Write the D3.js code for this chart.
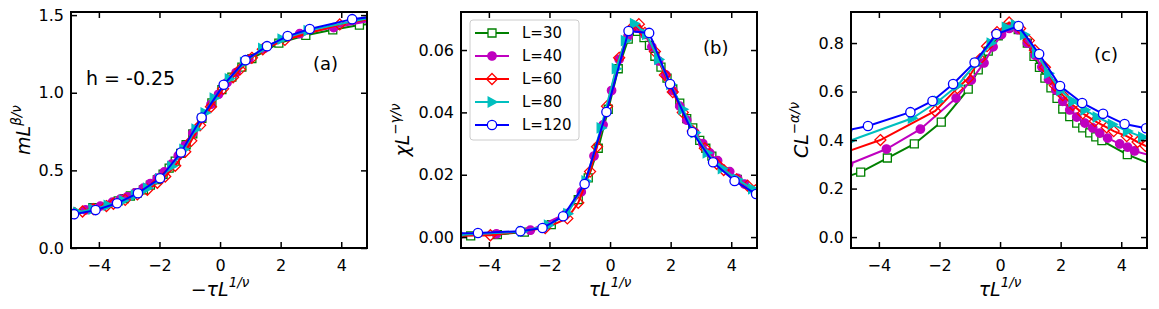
<!DOCTYPE html>
<html>
<head>
<meta charset="utf-8">
<script src="https://cdn.jsdelivr.net/npm/d3@7"></script>
<style>
    body { margin: 0; background: #fff; }
    svg { font-family: 'DejaVu Sans', sans-serif; }
</style>
</head>
<body>
<svg id="chart" width="1159" height="309"></svg>
<script>
// system sizes, same order everywhere
const sizes = ['L=30', 'L=40', 'L=60', 'L=80', 'L=120']
const colors = ['#008000', '#bf00bf', '#ff0000', '#00bfbf', '#0000ff']
const markers = ['square', 'dot', 'diamond', 'tri', 'circle']

// scaled temperature tau*L^(1/nu) for every size
const x30 = [-5.4, -4.6, -3.72, -2.83, -1.94, -1.05, -0.72, -0.39, -0.06, 0.27, 0.6, 0.9, 1.12, 1.3, 1.48, 1.68, 1.88, 2.07, 2.3, 2.53, 2.73, 2.96, 3.16, 3.36, 4.2, 5.1]
const x40 = [-5.0, -3.75, -2.63, -1.45, -0.95, -0.53, -0.23, 0.05, 0.3, 0.6, 0.9, 1.15, 1.38, 1.6, 1.84, 2.07, 2.3, 2.53, 2.8, 3.06, 3.29, 3.55, 3.95, 4.21, 4.44, 5.0]
const x60 = [-5.1, -3.95, -2.14, -1.41, -1.05, -0.66, -0.43, -0.1, 0.3, 0.66, 0.95, 1.15, 1.48, 1.81, 2.07, 2.4, 2.73, 3.13, 3.52, 3.75, 4.18, 4.54, 4.8, 5.2]
const x80 = [-5.0, -2.9, -2.04, -1.4, -0.8, -0.3, 0.2, 0.5, 0.8, 1.2, 1.6, 2.0, 2.4, 2.8, 3.2, 3.7, 4.2, 4.7, 5.2]
const x120 = [-5.05, -4.36, -2.96, -2.23, -1.55, -0.84, -0.12, 0.61, 1.29, 1.98, 2.71, 3.4, 4.11, 4.82]

// (a) m L^(beta/nu), plotted against -tau L^(1/nu)
const m30 = [1.45, 1.436, 1.405, 1.37, 1.32, 1.22, 1.165, 1.10, 1.02, 0.935, 0.835, 0.735, 0.665, 0.61, 0.56, 0.515, 0.475, 0.44, 0.405, 0.375, 0.355, 0.335, 0.318, 0.303, 0.26, 0.225]
const m40 = [1.465, 1.42, 1.38, 1.285, 1.215, 1.13, 1.065, 0.99, 0.925, 0.835, 0.74, 0.66, 0.595, 0.54, 0.49, 0.45, 0.415, 0.385, 0.355, 0.33, 0.315, 0.295, 0.27, 0.255, 0.245, 0.22]
const m60 = [1.48, 1.44, 1.34, 1.28, 1.225, 1.15, 1.10, 1.025, 0.91, 0.79, 0.69, 0.62, 0.53, 0.46, 0.42, 0.375, 0.345, 0.31, 0.285, 0.27, 0.25, 0.235, 0.225, 0.21]
const m80 = [1.485, 1.40, 1.345, 1.285, 1.195, 1.09, 0.965, 0.87, 0.765, 0.635, 0.525, 0.445, 0.385, 0.34, 0.305, 0.275, 0.25, 0.23, 0.215]
const m120 = [1.49, 1.474, 1.41, 1.365, 1.30, 1.21, 1.051, 0.84, 0.615, 0.449, 0.353, 0.288, 0.244, 0.218]

// (b) chi L^(-gamma/nu)
const chi30 = [0.0003, 0.0004, 0.0008, 0.0016, 0.004, 0.012, 0.019, 0.0285, 0.041, 0.054, 0.0635, 0.066, 0.064, 0.0615, 0.058, 0.0545, 0.051, 0.0475, 0.043, 0.038, 0.035, 0.031, 0.0285, 0.026, 0.0185, 0.0135]
const chi40 = [0.0005, 0.001, 0.0022, 0.0075, 0.0145, 0.026, 0.036, 0.047, 0.057, 0.0645, 0.067, 0.065, 0.061, 0.0565, 0.052, 0.047, 0.042, 0.0375, 0.0335, 0.03, 0.027, 0.0245, 0.021, 0.0188, 0.017, 0.0135]
const chi60 = [0.0004, 0.0006, 0.0029, 0.006, 0.011, 0.021, 0.029, 0.042, 0.0575, 0.0665, 0.0683, 0.0655, 0.0595, 0.052, 0.0465, 0.040, 0.034, 0.0285, 0.0235, 0.0215, 0.0185, 0.0165, 0.015, 0.013]
const chi80 = [0.0007, 0.0018, 0.0038, 0.0075, 0.018, 0.035, 0.054, 0.063, 0.0685, 0.065, 0.057, 0.049, 0.041, 0.0335, 0.027, 0.022, 0.0185, 0.0155, 0.013]
const chi120 = [0.0012, 0.0013, 0.0019, 0.0029, 0.0067, 0.017, 0.0401, 0.0661, 0.0655, 0.0491, 0.0337, 0.024, 0.018, 0.0138]

// (c) C L^(-alpha/nu)
const c30 = [0.235, 0.268, 0.326, 0.384, 0.474, 0.61, 0.689, 0.767, 0.83, 0.865, 0.855, 0.80, 0.745, 0.70, 0.655, 0.615, 0.572, 0.528, 0.497, 0.47, 0.45, 0.43, 0.413, 0.398, 0.34, 0.295]
const c40 = [0.30, 0.363, 0.445, 0.573, 0.647, 0.718, 0.784, 0.835, 0.86, 0.855, 0.80, 0.75, 0.701, 0.65, 0.606, 0.56, 0.524, 0.495, 0.47, 0.45, 0.429, 0.408, 0.384, 0.371, 0.355, 0.335]
const c60 = [0.35, 0.40, 0.52, 0.614, 0.655, 0.734, 0.787, 0.845, 0.885, 0.86, 0.81, 0.77, 0.70, 0.625, 0.585, 0.545, 0.51, 0.478, 0.452, 0.437, 0.416, 0.392, 0.376, 0.36]
const c80 = [0.395, 0.49, 0.56, 0.625, 0.715, 0.80, 0.865, 0.875, 0.835, 0.76, 0.675, 0.605, 0.56, 0.525, 0.495, 0.465, 0.437, 0.412, 0.39]
const c120 = [0.44, 0.458, 0.515, 0.561, 0.631, 0.72, 0.837, 0.87, 0.755, 0.623, 0.553, 0.508, 0.466, 0.449]

const xTicks = [-4, -2, 0, 2, 4]
const ticksA = [0, 0.5, 1.0, 1.5]
const ticksB = [0, 0.02, 0.04, 0.06]
const ticksC = [0, 0.2, 0.4, 0.6, 0.8]

const xs = [x30, x40, x60, x80, x120]

const svg = d3.select('#chart')
const top0 = 12, ph = 236, pw = 296
const xDomain = [-4.92, 4.85]

// marker shapes, centred on 0,0
function markerPath(kind) {
    if (kind === 'square') return 'M-4,-4H4V4H-4Z'
    if (kind === 'diamond') return 'M0,-5.5L5.5,0L0,5.5L-5.5,0Z'
    if (kind === 'tri') return 'M5.2,0L-3.8,-4.8L-3.8,4.8Z'
    if (kind === 'dot') return d3.symbol(d3.symbolCircle, 56)()
    return d3.symbol(d3.symbolCircle, 68)()
}
function markerFill(kind, i) {
    if (kind === 'dot' || kind === 'tri') return colors[i]
    if (kind === 'diamond') return 'none'
    return '#fff'
}

function drawPanel(left, ys, flip, yDomain, yTicks, yFmt, id) {
    const g = svg.append('g').attr('transform', `translate(${left},${top0})`)
    const x = d3.scaleLinear().domain(xDomain).range([0, pw])
    const y = d3.scaleLinear().domain(yDomain).range([ph, 0])

    g.append('clipPath').attr('id', 'clip' + id)
        .append('rect').attr('width', pw).attr('height', ph)

    const plot = g.append('g').attr('clip-path', `url(#clip${id})`)
    const line = d3.line().x(d => x(d[0])).y(d => y(d[1]))

    ys.forEach((vals, i) => {
        const pts = xs[i].map((v, k) => [flip ? -v : v, vals[k]])
        plot.append('path')
            .attr('d', line(pts))
            .attr('fill', 'none')
            .attr('stroke', colors[i])
            .attr('stroke-width', 2)
        plot.selectAll('.mk' + i)
            .data(pts)
            .enter().append('path')
            .attr('class', 'mk' + i)
            .attr('transform', d => `translate(${x(d[0])},${y(d[1])})`)
            .attr('d', markerPath(markers[i]))
            .attr('fill', markerFill(markers[i], i))
            .attr('stroke', colors[i])
            .attr('stroke-width', 1.3)
    })

    // inward ticks on every side
    const axB = g.append('g').attr('transform', `translate(0,${ph})`)
        .call(d3.axisBottom(x).tickValues(xTicks).tickFormat(d3.format('d')).tickSizeInner(-6).tickSizeOuter(0).tickPadding(12))
    const axT = g.append('g')
        .call(d3.axisTop(x).tickValues(xTicks).tickFormat('').tickSizeInner(-6).tickSizeOuter(0))
    const axL = g.append('g')
        .call(d3.axisLeft(y).tickValues(yTicks).tickFormat(d3.format(yFmt)).tickSizeInner(-6).tickSizeOuter(0).tickPadding(7))
    const axR = g.append('g').attr('transform', `translate(${pw},0)`)
        .call(d3.axisRight(y).tickValues(yTicks).tickFormat('').tickSizeInner(-6).tickSizeOuter(0))
    ;[axB, axT, axL, axR].forEach(a => {
        a.select('.domain').remove()
        a.selectAll('line').attr('stroke', '#000').attr('stroke-width', 1.5)
        a.selectAll('text').attr('font-size', 16).attr('fill', '#000').attr('font-family', 'DejaVu Sans')
    })

    g.append('rect')
        .attr('width', pw).attr('height', ph)
        .attr('fill', 'none').attr('stroke', '#000').attr('stroke-width', 2)
    return g
}

function mathLabel(g, x, y, rotate, parts) {
    const t = g.append('text')
        .attr('transform', `translate(${x},${y})` + (rotate ? ' rotate(-90)' : ''))
        .attr('text-anchor', 'middle')
        .attr('font-size', 19)
        .attr('fill', '#000')
    t.append('tspan').attr('font-style', 'italic').text(parts[0])
    t.append('tspan').attr('font-size', 13.5).attr('dy', -9).attr('font-style', 'italic').text(parts[1])
}

const ga = drawPanel(71, [m30, m40, m60, m80, m120], true, [0, 1.52], ticksA, '.1f', 'a')
const gb = drawPanel(461, [chi30, chi40, chi60, chi80, chi120], false, [-0.0035, 0.0722], ticksB, '.2f', 'b')
const gc = drawPanel(851, [c30, c40, c60, c80, c120], false, [-0.045, 0.928], ticksC, '.1f', 'c')

mathLabel(svg, 220, 296, false, ['\u2212\u03c4L', '1/\u03bd'])
mathLabel(svg, 610, 296, false, ['\u03c4L', '1/\u03bd'])
mathLabel(svg, 1000, 296, false, ['\u03c4L', '1/\u03bd'])
mathLabel(svg, 30, 130, true, ['mL', '\u03b2/\u03bd'])
mathLabel(svg, 409, 130, true, ['\u03c7L', '\u2212\u03b3/\u03bd'])
mathLabel(svg, 808, 130, true, ['CL', '\u2212\u03b1/\u03bd'])

ga.append('text').attr('x', 15).attr('y', 73).attr('font-size', 19).text('h = -0.25')
ga.append('text').attr('x', 242).attr('y', 58).attr('font-size', 18).text('(a)')
gb.append('text').attr('x', 242).attr('y', 42).attr('font-size', 18).text('(b)')
gc.append('text').attr('x', 243).attr('y', 49).attr('font-size', 18).text('(c)')

// legend inside panel (b)
const legend = gb.append('g').attr('transform', 'translate(9,8)')
legend.append('rect')
    .attr('width', 109).attr('height', 120).attr('rx', 3)
    .attr('fill', '#fff').attr('fill-opacity', 0.8)
    .attr('stroke', '#ccc').attr('stroke-width', 1)
const item = legend.selectAll('.legenda')
    .data(sizes)
    .enter().append('g')
    .attr('class', 'legenda')
    .attr('transform', (d, i) => `translate(0,${13 + i * 23})`)
item.append('line')
    .attr('x1', 5).attr('x2', 39)
    .attr('stroke', (d, i) => colors[i]).attr('stroke-width', 2)
item.append('path')
    .attr('transform', 'translate(22,0)')
    .attr('d', (d, i) => markerPath(markers[i]))
    .attr('fill', (d, i) => markerFill(markers[i], i))
    .attr('stroke', (d, i) => colors[i])
    .attr('stroke-width', 1.3)
item.append('text')
    .attr('x', 52).attr('dy', '0.35em')
    .attr('font-size', 15)
    .text(d => d)
</script>
</body>
</html>
